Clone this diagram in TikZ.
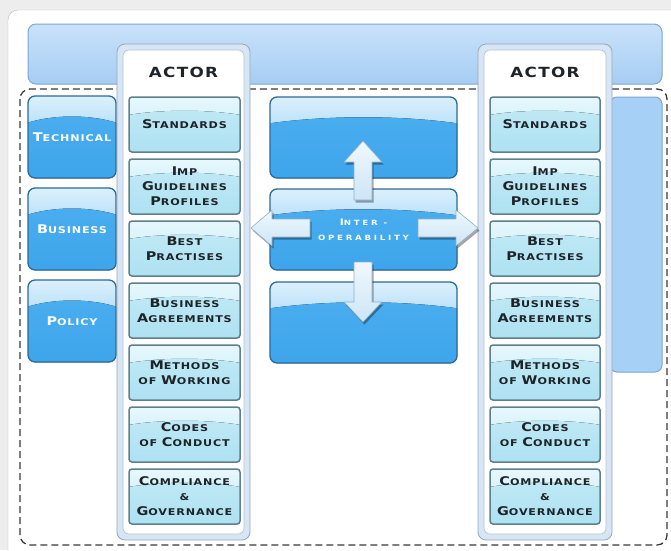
\documentclass[tikz,border=0pt]{standalone}
\usepackage{fontspec}
\usetikzlibrary{calc,fit}
\newfontfamily\labfont[LetterSpace=9,FakeStretch=1.2]{DejaVu Sans}
\newfontfamily\widefont[LetterSpace=38,FakeStretch=1.2]{DejaVu Sans}
% small-caps look: a tall initial followed by the node's smaller capitals
\newcommand\capsm[2]{{\fontsize{12}{15}\selectfont #1}#2}

\definecolor{pagebg}{HTML}{EDEDED}
\definecolor{panelline}{HTML}{BDBDBD}
\definecolor{barlow}{HTML}{A6CDF3}
\definecolor{bartop}{HTML}{C9E2FA}
\definecolor{barline}{HTML}{7EA6D3}
\definecolor{tiletop}{HTML}{DCF0FC}
\definecolor{tilebase}{HTML}{7CC5F4}
\definecolor{tilemid}{HTML}{4CAFF0}
\definecolor{tilelow}{HTML}{3BA3EA}
\definecolor{tileline}{HTML}{2C6A98}
\definecolor{paletop}{HTML}{E6F2FC}
\definecolor{palelow}{HTML}{A7D0F6}
\definecolor{paleline}{HTML}{7EA6D3}
\definecolor{itemtop}{HTML}{E6F8FD}
\definecolor{itemlow}{HTML}{A8DFF1}
\definecolor{itemline}{HTML}{5F8088}
\definecolor{framefill}{HTML}{D6E6F6}
\definecolor{frameline}{HTML}{9AA6B2}
\definecolor{arrowtop}{HTML}{F0F8FE}
\definecolor{arrowlow}{HTML}{CDE5F6}
\definecolor{arrowline}{HTML}{8FB0C8}
\definecolor{textdark}{HTML}{1E2328}
\definecolor{dashcol}{HTML}{3A3A3A}

% pale column: flat blue with a short light sheen at the top
\pgfdeclareverticalshading{paleshade}{100bp}{color(0bp)=(palelow); color(84bp)=(palelow); color(100bp)=(paletop)}

\tikzset{
  gloss/.style 2 args={path picture={
    \fill[top color=#1, bottom color=#2]
      let \p1=(path picture bounding box.south west),
          \p2=(path picture bounding box.north east) in
      ({0.5*\x1+0.5*\x2},{\y1+0.25*(\y2-\y1)})
      ellipse [x radius={0.95*(\x2-\x1)}, y radius={0.5*(\y2-\y1)}];}},
  tile/.style={draw=tileline, line width=1.3pt, rounded corners=7pt,
    top color=tiletop, bottom color=tilebase, inner sep=0pt,
    gloss={tilemid}{tilelow}},
  tiletext/.style={text=white!92!tiletop,
    font=\labfont\bfseries\fontsize{9.3}{15}\selectfont},
  paletile/.style={draw=paleline, line width=1pt, rounded corners=7pt,
    shading=paleshade, shading angle=0, inner sep=0pt},
  bar/.style={draw=barline, line width=1pt, rounded corners=8pt,
    top color=bartop, bottom color=barlow, inner sep=0pt},
  frameouter/.style={draw=frameline, line width=0.8pt, rounded corners=8pt,
    fill=framefill, inner sep=0pt},
  frameinner/.style={draw=frameline!70, line width=0.6pt, rounded corners=6pt,
    fill=white, inner sep=0pt},
  item/.style={draw=itemline, line width=1.5pt, rounded corners=3pt,
    top color=itemtop, bottom color=itemlow!60!itemtop, inner sep=0pt,
    gloss={itemlow!55!itemtop}{itemlow}},
  itemtext/.style={align=center, text=textdark,
    font=\labfont\bfseries\fontsize{9.3}{15}\selectfont},
  actorlabel/.style={text=textdark, font=\labfont\bfseries\fontsize{14}{14}\selectfont},
  centerlabel/.style={text=white!85!tiletop, align=center,
    font=\widefont\bfseries\fontsize{7.2}{15}\selectfont},
  bigarrow/.style={draw=arrowline, line width=0.6pt, top color=arrowtop,
    bottom color=arrowlow, line join=round},
  arrowshade/.style={fill=black, opacity=0.35},
}

\begin{document}
\begin{tikzpicture}[x=1pt,y=-1pt]
\useasboundingbox (0,0) rectangle (671,550);
\clip (0,0) rectangle (671,550);
\fill[pagebg] (0,0) rectangle (671,550);
% white panel
\draw[panelline, fill=white, rounded corners=10pt] (8,10) rectangle (700,580);

% top band
\node[bar, fit={(28,24) (662,84)}] (band) {};

% dashed outline of the working area
\draw[dashcol, line width=1.3pt, dash pattern=on 7pt off 4pt, rounded corners=10pt]
  (20,89) rectangle (667,545);

% dimension tiles
\node[tile, fit={(28,96) (116,178)}] (technical) {};
\node[tile, fit={(28,188) (116,270)}] (business) {};
\node[tile, fit={(28,280) (116,362)}] (policy) {};
\node[tiletext] (technicaltxt) at (technical.center) {\capsm{T}{ECHNICAL}};
\node[tiletext] (businesstxt) at (business.center) {\capsm{B}{USINESS}};
\node[tiletext] (policytxt) at (policy.center) {\capsm{P}{OLICY}};

% central tiles
\node[tile, fit={(270,97) (457,178)}] (ctop) {};
\node[tile, fit={(270,189) (457,270)}] (cmid) {};
\node[tile, fit={(270,282) (457,363)}] (cbot) {};

% narrow tile on the right
\node[paletile, fit={(610,97) (662,372)}] (rtile) {};

% actor columns
\foreach \side/\xa/\xb/\xc/\xd in {L/117/250/123/244, R/478/612/484/606}{
  \node[frameouter, fit={(\xa,44) (\xb,540)}] (frame\side) {};
  \node[frameinner, fit={(\xc,50) (\xd,534)}] (inner\side) {};
  \node[actorlabel] (actor\side) at ({(\xc+\xd)/2},72) {ACTOR};
}

\foreach \side/\xa/\xb in {L/129/240, R/490/600}{
  \foreach \t [count=\i] in {
    {\capsm{S}{TANDARDS}},
    {\capsm{I}{MP}\\\capsm{G}{UIDELINES}\\\capsm{P}{ROFILES}},
    {\capsm{B}{EST}\\\capsm{P}{RACTISES}},
    {\capsm{B}{USINESS}\\\capsm{A}{GREEMENTS}},
    {\capsm{M}{ETHODS}\\OF \capsm{W}{ORKING}},
    {\capsm{C}{ODES}\\OF \capsm{C}{ONDUCT}},
    {\capsm{C}{OMPLIANCE}\\\&\\\capsm{G}{OVERNANCE}}}{
    \node[item, fit={(\xa,{97+62*(\i-1)}) (\xb,{152+62*(\i-1)})}] (\side\i) {};
    \node[itemtext] (\side\i txt) at (\side\i.center) {\t};
  }
}

% four arrows around the interoperability label
\foreach \dx/\dy/\op in {1.5/2.5/arrowshade, 0/0/bigarrow}{
  \begin{scope}[shift={(\dx,\dy)}]
    \path[\op] (354,200) -- (354,162) -- (344,162) -- (363,141) -- (382,162)
      -- (372,162) -- (372,200) -- cycle;
    \path[\op] (354,262) -- (354,302) -- (344,302) -- (363,322) -- (382,302)
      -- (372,302) -- (372,262) -- cycle;
    \path[\op] (310,219) -- (272,219) -- (272,210) -- (251,228) -- (272,246)
      -- (272,237) -- (310,237) -- cycle;
    \path[\op] (418,219) -- (456,219) -- (456,210) -- (478,228) -- (456,246)
      -- (456,237) -- (418,237) -- cycle;
  \end{scope}
}

\node[centerlabel] (inter) at (cmid.center) {{\fontsize{9}{15}\selectfont I}NTER -\\OPERABILITY};
\end{tikzpicture}
\end{document}
